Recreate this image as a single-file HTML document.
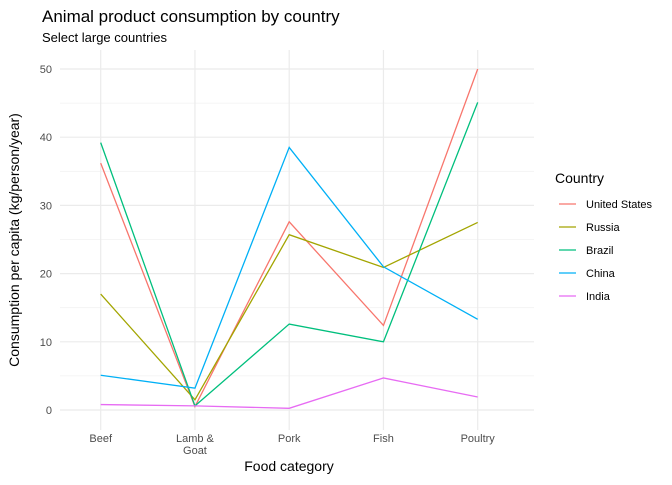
<!DOCTYPE html>
<html><head><meta charset="utf-8"><style>
body{margin:0;background:#fff;font-family:"Liberation Sans",Arial,sans-serif}
svg text{font-family:"Liberation Sans",Arial,sans-serif}
</style></head><body>
<svg id="chart" width="672" height="480" xmlns="http://www.w3.org/2000/svg">
<text x="42" y="22" font-size="17" fill="#000">Animal product consumption by country</text>
<text x="42" y="42" font-size="13" fill="#000">Select large countries</text>
<g id="grid"></g><g id="series"></g><g id="axes"></g>
<text x="289" y="471" font-size="14" text-anchor="middle">Food category</text>
<text transform="translate(19,240) rotate(-90)" font-size="14" text-anchor="middle">Consumption per capita (kg/person/year)</text>
<g id="legend"></g>
</svg>
<script>
const categories=["Beef","Lamb &\nGoat","Pork","Fish","Poultry"];
const countries=["United States","Russia","Brazil","China","India"];
const colors=["#F8766D","#A3A500","#00BF7D","#00B0F6","#E76BF3"];
const usValues=[36.2,0.5,27.6,12.4,50];
const russiaValues=[17.0,1.5,25.7,20.9,27.5];
const brazilValues=[39.2,0.6,12.6,10.0,45.1];
const chinaValues=[5.1,3.2,38.5,21.0,13.3];
const indiaValues=[0.8,0.6,0.25,4.7,1.9];
const yTicks=[0,10,20,30,40,50];
const series=[usValues,russiaValues,brazilValues,chinaValues,indiaValues];
const NS="http://www.w3.org/2000/svg";
const L=60,R=534,T=50,B=430;
const x=i=>100.7+i*94.25;
const y=v=>410-v*(341/50);
function mk(t,a,p){const e=document.createElementNS(NS,t);for(const k in a)e.setAttribute(k,a[k]);p.appendChild(e);return e;}
const g=document.getElementById('grid'),ax=document.getElementById('axes'),sg=document.getElementById('series'),lg=document.getElementById('legend');
for(let v=5;v<=45;v+=10){const l=mk('line',{x1:L,x2:R,y1:y(v),y2:y(v),stroke:'#f2f2f2','stroke-width':0.8},g);

}
yTicks.forEach(v=>{const l=mk('line',{x1:L,x2:R,y1:y(v),y2:y(v),stroke:'#ebebeb','stroke-width':1.2},g);


const t=mk('text',{x:52,y:y(v)+4,'font-size':11,fill:'#4d4d4d','text-anchor':'end'},ax);t.textContent=v;

});
categories.forEach((c,i)=>{const l=mk('line',{x1:x(i),x2:x(i),y1:T,y2:B,stroke:'#ebebeb','stroke-width':1.2},g);


c.split('\n').forEach((s,j)=>{const t=mk('text',{x:x(i),y:442+j*12,'font-size':11,fill:'#4d4d4d','text-anchor':'middle'},ax);t.textContent=s;

});});
series.forEach((vals,k)=>{const p=mk('polyline',{points:vals.map((v,i)=>x(i)+','+y(v)).join(' '),fill:'none',stroke:colors[k],'stroke-width':1.3},sg);

});
const lt=mk('text',{x:555,y:183,'font-size':14},lg);lt.textContent='Country';


countries.forEach((c,k)=>{const yy=204+k*23;
const l=mk('line',{x1:559,x2:576,y1:yy,y2:yy,stroke:colors[k],'stroke-width':1.3},lg);


const t=mk('text',{x:586,y:yy+4,'font-size':11},lg);t.textContent=c;

});
</script>
</body></html>
